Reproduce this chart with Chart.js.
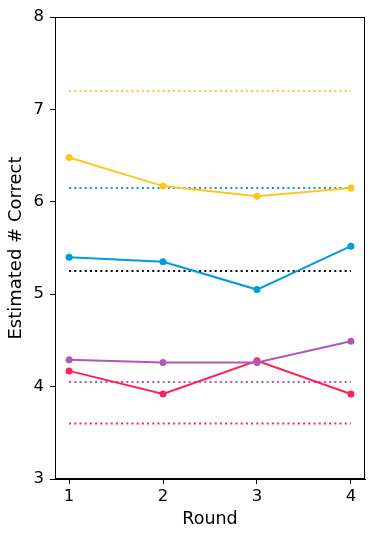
<!DOCTYPE html>
<html><head><meta charset="utf-8">
<script src="https://cdn.jsdelivr.net/npm/chart.js@4"></script>
<style>html,body{margin:0;padding:0;background:#fff}#wrap{width:374px;height:540px}</style>
</head><body><div id="wrap"><canvas id="c" width="374" height="540"></canvas></div>
<script>
const rounds = [1, 2, 3, 4];
const yellowVals = [6.48, 6.17, 6.06, 6.15];
const blueVals = [5.40, 5.35, 5.05, 5.52];
const purpleVals = [4.29, 4.26, 4.26, 4.49];
const redVals = [4.17, 3.92, 4.28, 3.92];
const yellowBase = 7.20;
const blueBase = 6.15;
const blackBase = 5.25;
const purpleBase = 4.05;
const redBase = 3.60;
const yTicks = [3, 4, 5, 6, 7, 8];

const C = {yellow:'#FFC61E', blue:'#009ADE', purple:'#AF58BA', red:'#FF1F5B', black:'#000000'};
const pts = vals => rounds.map((r,i)=>({x:r, y:vals[i]}));
const base = v => [{x:rounds[0], y:v},{x:rounds[rounds.length-1], y:v}];
const lineDs = (vals,col,order) => ({data:pts(vals), borderColor:col, backgroundColor:col, borderWidth:2, pointRadius:3.5, pointBorderWidth:0, pointHoverRadius:3.5, order});
const dotDs = (v,col,order) => ({data:base(v), borderColor:col, borderWidth:2, borderDash:[2,3.2], pointRadius:0, order});

const frame = {id:'frame', afterDatasetsDraw(ch){const a=ch.chartArea,ctx=ch.ctx;ctx.save();ctx.strokeStyle='#000';ctx.lineWidth=1;ctx.strokeRect(Math.round(a.left)+0.5,Math.round(a.top)+0.5,Math.round(a.right-a.left)-1,Math.round(a.bottom-a.top)-1);ctx.restore();}};

const FT = {family:'DejaVu Sans', size:16.5};
new Chart(document.getElementById('c'), {
  type:'line',
  data:{datasets:[
    lineDs(yellowVals,C.yellow,1),
    lineDs(purpleVals,C.purple,2),
    lineDs(redVals,C.red,3),
    lineDs(blueVals,C.blue,4),
    dotDs(yellowBase,C.yellow,5),
    dotDs(blueBase,C.blue,6),
    dotDs(blackBase,C.black,7),
    dotDs(purpleBase,C.purple,8),
    dotDs(redBase,C.red,9)
  ]},
  options:{
    responsive:false, animation:false, events:[],
    layout:{padding:{top:17,right:9,left:0,bottom:10.5}},
    plugins:{legend:{display:false},tooltip:{enabled:false}},
    elements:{line:{tension:0}},
    scales:{
      x:{type:'linear', min:0.85, max:4.15,
        afterBuildTicks:s=>{s.ticks=rounds.map(v=>({value:v}));},
        afterFit:s=>{s.height=50.5;},
        grid:{display:true, drawOnChartArea:false, drawTicks:true, tickLength:5, color:'#000'},
        border:{display:true, color:'#000', width:1},
        ticks:{color:'#000', font:FT, padding:3, maxRotation:0},
        title:{display:true, text:'Round', color:'#000', font:{family:'DejaVu Sans', size:17.5}, padding:{top:0,bottom:0}}
      },
      y:{type:'linear', min:3, max:8,
        afterBuildTicks:s=>{s.ticks=yTicks.map(v=>({value:v}));},
        afterFit:s=>{s.width=55;},
        grid:{display:true, drawOnChartArea:false, drawTicks:true, tickLength:5, color:'#000'},
        border:{display:true, color:'#000', width:1},
        ticks:{color:'#000', font:FT, padding:6},
        title:{display:true, text:'Estimated # Correct', color:'#000', font:{family:'DejaVu Sans', size:18}, padding:{top:6,bottom:0}}
      }
    }
  },
  plugins:[frame]
});
</script></body></html>
